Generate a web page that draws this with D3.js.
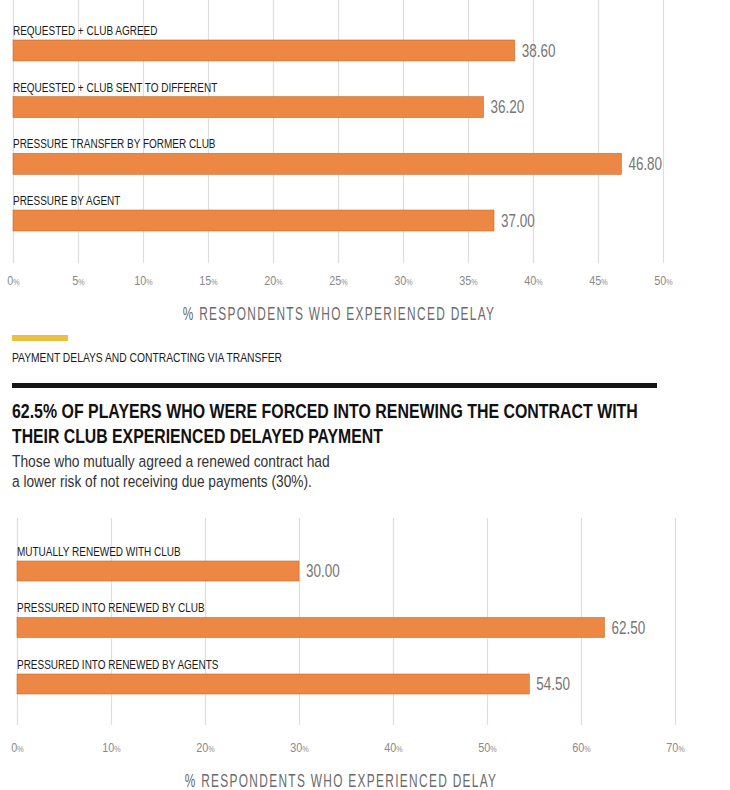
<!DOCTYPE html>
<html>
<head>
<meta charset="utf-8">
<script src="https://cdn.jsdelivr.net/npm/d3@7"></script>
<style>
  html, body { margin: 0; padding: 0; background: #fff; }
  svg { display: block; font-family: "Liberation Sans", Arial, sans-serif; }
</style>
</head>
<body>
<svg id="chart" width="730" height="790"></svg>
<script>
// ---------- data ----------
const topCategories = [
  "REQUESTED + CLUB AGREED",
  "REQUESTED + CLUB SENT TO DIFFERENT",
  "PRESSURE TRANSFER BY FORMER CLUB",
  "PRESSURE BY AGENT"
];
const topValues = [38.60, 36.20, 46.80, 37.00];
const topTicks = [0, 5, 10, 15, 20, 25, 30, 35, 40, 45, 50];

const bottomCategories = [
  "MUTUALLY RENEWED WITH CLUB",
  "PRESSURED INTO RENEWED BY CLUB",
  "PRESSURED INTO RENEWED BY AGENTS"
];
const bottomValues = [30.00, 62.50, 54.50];
const bottomTicks = [0, 10, 20, 30, 40, 50, 60, 70];

const axisTitle = "% RESPONDENTS WHO EXPERIENCED DELAY";
const sectionLabel = "PAYMENT DELAYS AND CONTRACTING VIA TRANSFER";
const titleLines = [
  "62.5% OF PLAYERS WHO WERE FORCED INTO RENEWING THE CONTRACT WITH",
  "THEIR CLUB EXPERIENCED DELAYED PAYMENT"
];
const subtitleLines = [
  "Those who mutually agreed a renewed contract had",
  "a lower risk of not receiving due payments (30%)."
];

// ---------- style ----------
const BAR = "#ec8844";
const BAR_EDGE = "#c96a2a";
const GRID = "#dedede";
const svg = d3.select("#chart");

// place a text at (x, y) and squeeze it horizontally to a target width
function fitText(x, y, width, str, attrs) {
  const t = svg.append("text").text(str);
  Object.entries(attrs).forEach(([k, v]) => t.attr(k, v));
  const len = t.node().getComputedTextLength();
  t.attr("transform", `translate(${x},${y}) scale(${width / len},1)`);
  return t;
}

function drawChart(cfg) {
  const x = d3.scaleLinear().domain(cfg.domain).range(cfg.xRange);
  const y = d3.scaleBand().domain(cfg.categories).range(cfg.yRange)
    .paddingInner(cfg.padInner).paddingOuter(0);
  const g = svg.append("g");

  // gridlines + tick labels via axis
  const axis = d3.axisBottom(x).tickValues(cfg.ticks)
    .tickSize(-(cfg.gridBottom - cfg.gridTop)).tickFormat(d => d);
  const ag = g.append("g").attr("transform", `translate(0,${cfg.gridBottom})`).call(axis);
  ag.attr("font-size", null).attr("font-family", null);
  ag.select(".domain").remove();
  ag.selectAll(".tick line").attr("stroke", GRID).attr("stroke-width", 1.2);
  ag.selectAll(".tick text").each(function(d) {
    const t = d3.select(this);
    t.text(null).attr("y", null).attr("dy", null)
      .attr("fill", "#8a8a8a").attr("font-size", 13.5)
      .attr("transform", `translate(0,${cfg.tickBaseline - cfg.gridBottom}) scale(0.8,1)`)
      .attr("text-anchor", "middle");
    t.append("tspan").text(d);
    t.append("tspan").attr("font-size", 9).text("%");
  });

  // bars
  g.selectAll("rect.bar").data(cfg.values).join("rect")
    .attr("class", "bar")
    .attr("x", x(0))
    .attr("y", (d, i) => y(cfg.categories[i]))
    .attr("width", d => x(d) - x(0))
    .attr("height", y.bandwidth())
    .attr("fill", BAR)
    .attr("stroke", BAR_EDGE).attr("stroke-width", 0.6);

  // category labels
  g.selectAll("text.cat").data(cfg.categories).join("text")
    .attr("class", "cat")
    .attr("transform", d => `translate(${x(0)},${y(d) - 5}) scale(0.74,1)`)
    .attr("font-size", 13.5).attr("fill", "#1a1a1a")
    .text(d => d);

  // value labels
  g.selectAll("text.val").data(cfg.values).join("text")
    .attr("class", "val")
    .attr("transform", (d, i) => `translate(${x(d) + 7},${y(cfg.categories[i]) + y.bandwidth() / 2 + 6.3}) scale(0.77,1)`)
    .attr("font-size", 17.5).attr("fill", "#767676")
    .text(d => d.toFixed(2));

  // axis title
  g.append("text")
    .attr("transform", `translate(${cfg.titleX},${cfg.titleBaseline}) scale(0.66,1)`)
    .attr("text-anchor", "middle")
    .attr("font-size", 18).attr("letter-spacing", 2).attr("fill", "#6a6a6a")
    .text(axisTitle);
}

drawChart({
  categories: topCategories, values: topValues, ticks: topTicks,
  domain: [0, 50], xRange: [13, 663], yRange: [40, 231], padInner: 0.63,
  gridTop: 0, gridBottom: 263, tickBaseline: 284.5,
  titleX: 339, titleBaseline: 319.5
});

drawChart({
  categories: bottomCategories, values: bottomValues, ticks: bottomTicks,
  domain: [0, 70], xRange: [17, 675], yRange: [561, 694], padInner: 0.646,
  gridTop: 518, gridBottom: 725, tickBaseline: 751.5,
  titleX: 341, titleBaseline: 787
});

// yellow marker + section label
svg.append("rect").attr("x", 12).attr("y", 335).attr("width", 56).attr("height", 6)
  .attr("fill", "#e9c03f");
fitText(12, 362, 270, sectionLabel, { "font-size": 13.5, fill: "#1a1a1a" });

// black rule
svg.append("rect").attr("x", 12).attr("y", 383).attr("width", 645).attr("height", 5)
  .attr("fill", "#161616");

// title
const titleWidths = [626, 371];
titleLines.forEach((t, i) => {
  fitText(12, 418 + i * 25, titleWidths[i], t,
    { "font-size": 21, "font-weight": "bold", fill: "#111" });
});

// subtitle
const subWidths = [318, 300];
subtitleLines.forEach((t, i) => {
  fitText(12, 467 + i * 20, subWidths[i], t, { "font-size": 16.5, fill: "#333" });
});
</script>
</body>
</html>
